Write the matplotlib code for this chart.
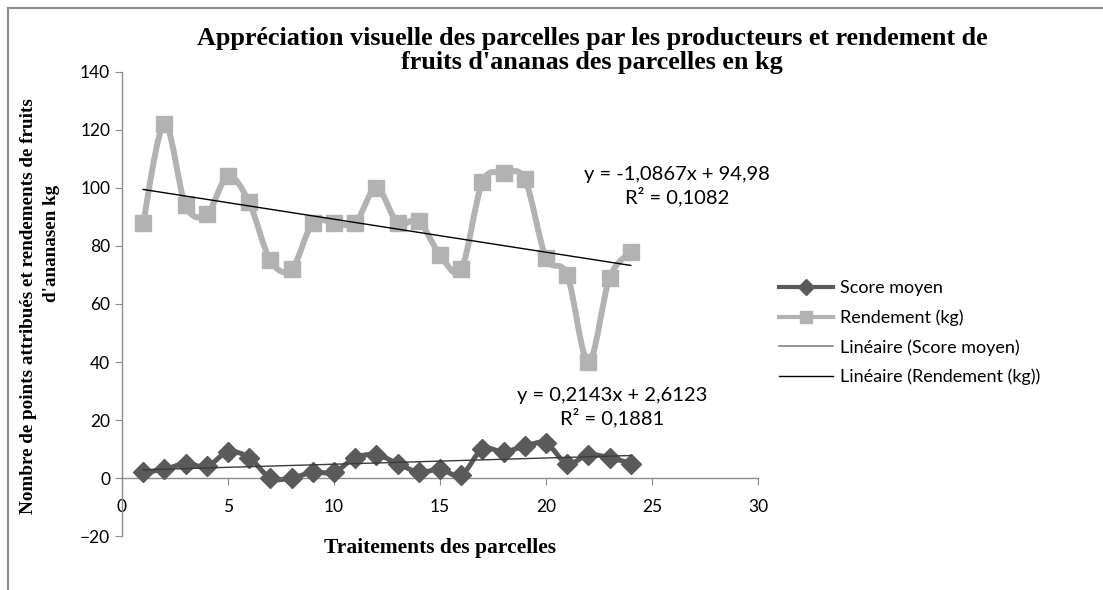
import matplotlib
matplotlib.use("Agg")
import matplotlib.pyplot as plt
from matplotlib.path import Path
from matplotlib.patches import PathPatch
from matplotlib.lines import Line2D
import numpy as np

# data
parcelles = list(range(1, 25))
score_moyen = [2, 3, 5, 4, 9, 7, 0, 0, 2, 2, 7, 8, 5, 2, 3, 1, 10, 9, 11, 12, 5, 8, 7, 5]
rendement = [88, 122, 94, 91, 104, 95, 75, 72, 88, 88, 88, 100, 88, 88.5, 77, 72,
             102, 105, 103, 76, 70, 40, 69, 78]

eq_rendement = ["y = -1,0867x + 94,98", "R² = 0,1082"]
eq_score = ["y = 0,2143x + 2,6123", "R² = 0,1881"]

title = ["Appréciation visuelle des parcelles par les producteurs et rendement de",
         "fruits d'ananas des parcelles en kg"]

plt.rcParams['font.family'] = ['Lato', 'DejaVu Sans']

c_rend = '#b2b2b2'
c_score = '#5a5a5a'


def smooth_path(xs, ys):
    # bezier smoothing like the spreadsheet "smoothed line" option
    p = np.column_stack([xs, ys]).astype(float)
    n = len(p)
    verts = [p[0]]
    codes = [Path.MOVETO]
    for i in range(n - 1):
        p0 = p[i - 1] if i > 0 else p[i]
        p3 = p[i + 2] if i + 2 < n else p[i + 1]
        c1 = p[i] + (p[i + 1] - p0) / 6.0
        c2 = p[i + 1] - (p3 - p[i]) / 6.0
        verts += [c1, c2, p[i + 1]]
        codes += [Path.CURVE4] * 3
    return Path(verts, codes)


fig = plt.figure(figsize=(11.03, 5.90), dpi=100)
ax = fig.add_axes([0.1106, 0.0915, 0.5766, 0.7865])

x = np.array(parcelles)

ax.add_patch(PathPatch(smooth_path(x, score_moyen), fill=False, ec=c_score, lw=3.6,
                       capstyle='round', joinstyle='round', zorder=2))
ax.plot(x, score_moyen, ls='none', marker='D', ms=10, color=c_score, zorder=3)

ax.add_patch(PathPatch(smooth_path(x, rendement), fill=False, ec=c_rend, lw=4.3,
                       capstyle='round', joinstyle='round', zorder=2))
ax.plot(x, rendement, ls='none', marker='s', ms=12, color=c_rend, zorder=3)

# linear trend lines
a1, b1 = np.polyfit(x, score_moyen, 1)
a2, b2 = np.polyfit(x, rendement, 1)
ax.plot([x[0], x[-1]], [a1 * x[0] + b1, a1 * x[-1] + b1], color='#3a3a3a', lw=1, zorder=4)
ax.plot([x[0], x[-1]], [a2 * x[0] + b2, a2 * x[-1] + b2], color='black', lw=1, zorder=4)

ax.text(26.2, 104.5, eq_rendement[0], ha='center', va='center', fontsize=14.5)
ax.text(26.2, 96.9, eq_rendement[1], ha='center', va='center', fontsize=14.5)
ax.text(23.1, 28.3, eq_score[0], ha='center', va='center', fontsize=14.5)
ax.text(23.1, 20.7, eq_score[1], ha='center', va='center', fontsize=14.5)

ax.set_xlim(0, 30)
ax.set_ylim(-20, 140)
ax.set_xticks(range(0, 31, 5))
ax.set_yticks(range(-20, 141, 20))
for s in ['top', 'right']:
    ax.spines[s].set_visible(False)
ax.spines['bottom'].set_position(('data', 0))
for s in ['bottom', 'left']:
    ax.spines[s].set_color('#8c8c8c')
    ax.spines[s].set_linewidth(1)
ax.tick_params(axis='both', colors='#8c8c8c', labelcolor='black', labelsize=12.5,
               length=5, direction='out')
ax.tick_params(axis='x', pad=10)

fig.text(0.537, 1 - 39 / 590, title[0], ha='center', va='center', fontsize=18.8,
         fontweight='bold', family='Liberation Serif')
fig.text(0.537, 1 - 63 / 590, title[1], ha='center', va='center', fontsize=18.8,
         fontweight='bold', family='Liberation Serif')
fig.text(0.026, 1 - 306 / 590, "Nombre de points attribués et rendements de fruits",
         rotation=90, ha='center', va='center', fontsize=13.8, fontweight='bold',
         family='Liberation Serif')
fig.text(0.047, 1 - 243 / 590, "d'ananasen kg", rotation=90, ha='center', va='center',
         fontsize=13.8, fontweight='bold', family='Liberation Serif')
fig.text(0.399, 1 - 548 / 590, "Traitements des parcelles", ha='center', va='center',
         fontsize=15.5, fontweight='bold', family='Liberation Serif')

handles = [
    Line2D([], [], color=c_score, lw=3, marker='D', ms=8),
    Line2D([], [], color=c_rend, lw=3, marker='s', ms=9),
    Line2D([], [], color='#808080', lw=1.2),
    Line2D([], [], color='black', lw=1),
]
labels = ["Score moyen", "Rendement (kg)", "Linéaire (Score moyen)",
          "Linéaire (Rendement (kg))"]
fig.legend(handles, labels, loc='upper left', bbox_to_anchor=(0.700, 0.537),
           frameon=False, fontsize=13, handlelength=3.0, handletextpad=0.35,
           labelspacing=0.72, borderaxespad=0)

# outer chart frame (top and left edges visible in the crop)
fig.add_artist(Line2D([0.007, 1.0], [0.986, 0.986], color='#8c8c8c', lw=1.5))
fig.add_artist(Line2D([0.007, 0.007], [0.0, 0.986], color='#8c8c8c', lw=1.5))

fig.savefig("out.png", dpi=100)
